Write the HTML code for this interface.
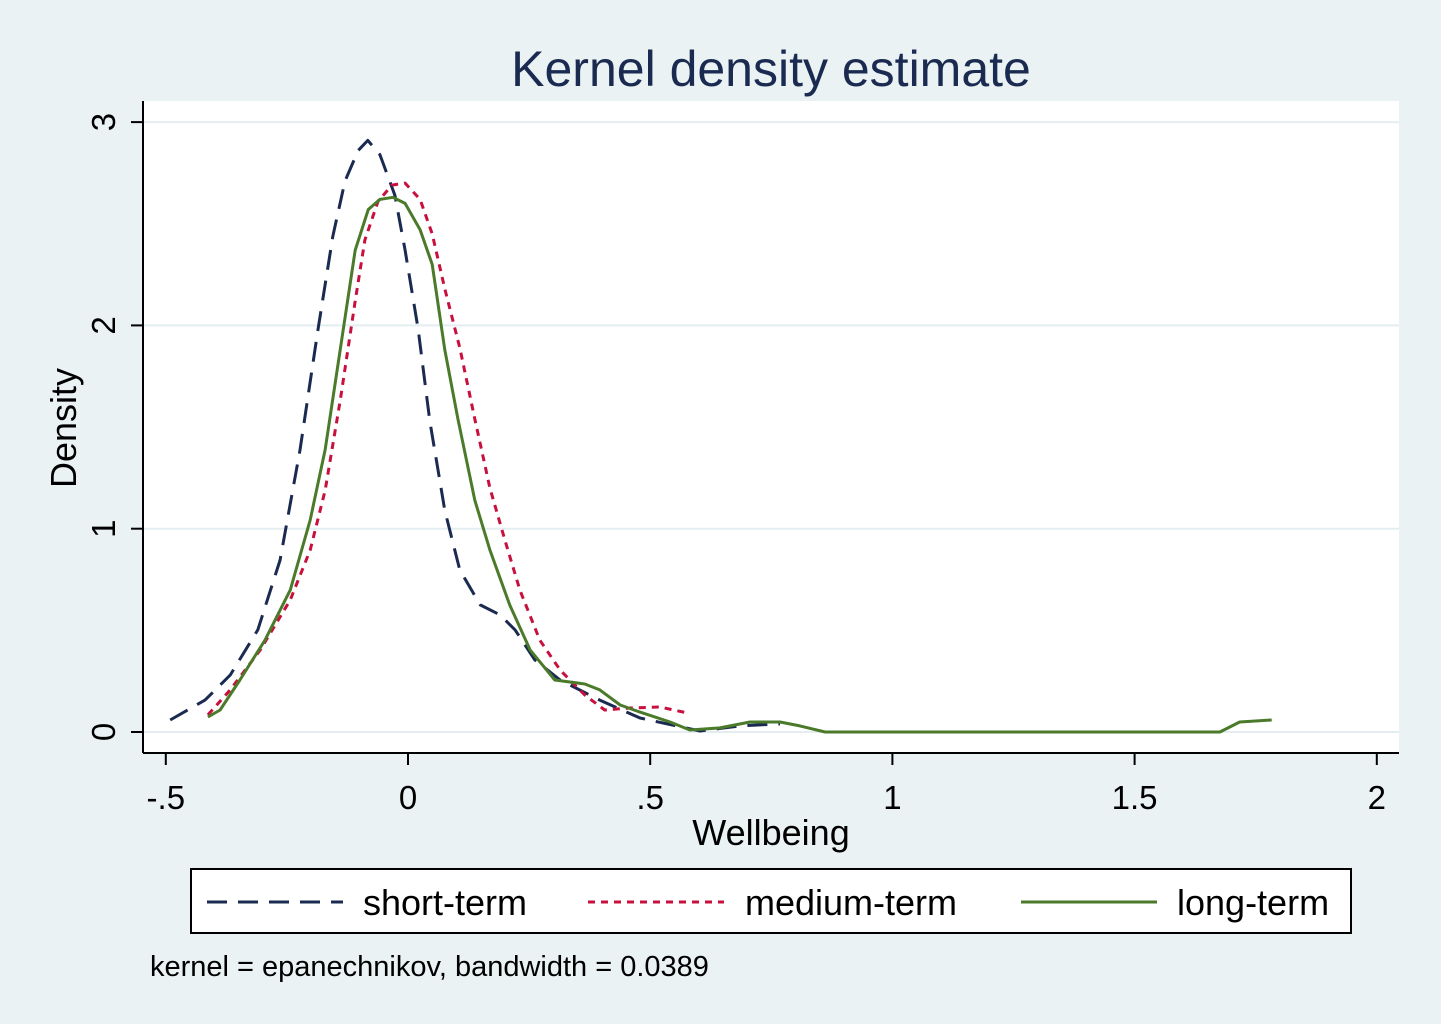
<!DOCTYPE html>
<html><head><meta charset="utf-8"><style>
html,body{margin:0;padding:0;background:#eaf2f3;}
svg{display:block;font-family:"Liberation Sans",Arial,sans-serif;}
</style></head><body>
<svg id="chart" width="1441" height="1024">
<rect x="0" y="0" width="1441" height="1024" fill="#eaf2f3"/>
<rect x="143" y="101" width="1256" height="652" fill="#ffffff"/>
<text x="771" y="86" text-anchor="middle" font-size="50" fill="#1a2a50">Kernel density estimate</text>
<g id="grid"></g>
<g id="series"></g>
<g id="axes"></g>
<text x="0" y="0" transform="translate(76,428) rotate(-90)" text-anchor="middle" font-size="36" fill="#000">Density</text>
<text x="771" y="845" text-anchor="middle" font-size="36" fill="#000">Wellbeing</text>
<g>
<rect x="191" y="869" width="1160" height="64" fill="#fff" stroke="#000" stroke-width="2"/>
<line x1="207" y1="902" x2="343" y2="902" stroke="#1a2a50" stroke-width="3" stroke-dasharray="20,11"/>
<text x="363" y="915" font-size="36">short-term</text>
<line x1="588" y1="902" x2="724" y2="902" stroke="#c8103e" stroke-width="3" stroke-dasharray="7,6"/>
<text x="745" y="915" font-size="36">medium-term</text>
<line x1="1021" y1="902" x2="1157" y2="902" stroke="#4a7a2a" stroke-width="3"/>
<text x="1177" y="915" font-size="36">long-term</text>
</g>
<text x="150" y="976" font-size="29">kernel = epanechnikov, bandwidth = 0.0389</text>
</svg>
<script>
const xTicks=[-0.5,0,0.5,1,1.5,2];
const xTickLabels=["-.5","0",".5","1","1.5","2"];
const yTicks=[0,1,2,3];
const yTickLabels=["0","1","2","3"];
const shortX=[-0.491,-0.419,-0.367,-0.310,-0.264,-0.223,-0.186,-0.155,-0.130,-0.103,-0.083,-0.058,-0.027,-0.006,0.021,0.045,0.076,0.107,0.149,0.190,0.221,0.262,0.314,0.396,0.479,0.603,0.685,0.768];
const shortY=[0.059,0.157,0.280,0.502,0.846,1.387,1.977,2.44,2.71,2.86,2.91,2.84,2.64,2.37,1.98,1.53,1.09,0.797,0.625,0.576,0.502,0.354,0.256,0.157,0.069,0.005,0.030,0.040];
const medX=[-0.413,-0.367,-0.305,-0.243,-0.202,-0.171,-0.140,-0.109,-0.089,-0.062,-0.033,-0.006,0.025,0.050,0.076,0.107,0.138,0.169,0.200,0.231,0.272,0.314,0.365,0.406,0.458,0.520,0.578];
const medY=[0.084,0.207,0.404,0.65,0.895,1.19,1.63,2.12,2.42,2.61,2.69,2.70,2.62,2.45,2.18,1.89,1.54,1.20,0.944,0.698,0.452,0.305,0.182,0.108,0.118,0.123,0.093];
const longX=[-0.413,-0.388,-0.347,-0.295,-0.243,-0.202,-0.171,-0.140,-0.109,-0.082,-0.058,-0.031,-0.006,0.025,0.050,0.076,0.103,0.138,0.169,0.210,0.252,0.303,0.365,0.396,0.438,0.479,0.541,0.582,0.644,0.706,0.768,0.809,0.861,1.676,1.717,1.783];
const longY=[0.074,0.108,0.256,0.453,0.699,1.043,1.39,1.88,2.37,2.57,2.62,2.63,2.60,2.47,2.30,1.88,1.54,1.14,0.895,0.625,0.404,0.256,0.236,0.207,0.133,0.098,0.049,0.010,0.020,0.049,0.049,0.030,0,0,0.049,0.059];

const NS="http://www.w3.org/2000/svg";
const sx=v=>408+v*484.4;
const sy=v=>732-v*203.3;
function mk(tag,attrs,parent){const e=document.createElementNS(NS,tag);for(const k in attrs)e.setAttribute(k,attrs[k]);parent.appendChild(e);return e;}
const grid=document.getElementById('grid'),axes=document.getElementById('axes'),series=document.getElementById('series');
yTicks.forEach((t,i)=>{
  const g=mk('line',{x1:143,x2:1399,y1:sy(t),y2:sy(t),stroke:'#e4eef0','stroke-width':2},grid);
  
  
  const tk=mk('line',{x1:131,x2:143,y1:sy(t),y2:sy(t),stroke:'#000','stroke-width':2},axes);
  
  
  const lb=mk('text',{transform:`translate(115,${sy(t)}) rotate(-90)`,'text-anchor':'middle','font-size':33},axes);
  lb.textContent=yTickLabels[i];
  
  
});
xTicks.forEach((t,i)=>{
  const tk=mk('line',{x1:sx(t),x2:sx(t),y1:753,y2:765,stroke:'#000','stroke-width':2},axes);
  
  
  const lb=mk('text',{x:sx(t),y:809,'text-anchor':'middle','font-size':33},axes);
  lb.textContent=xTickLabels[i];
  
  
});
const ya=mk('line',{x1:143,x2:143,y1:101,y2:753,stroke:'#000','stroke-width':2},axes);


const xa=mk('line',{x1:143,x2:1399,y1:753,y2:753,stroke:'#000','stroke-width':2},axes);


function path(xs,ys,color,dash,name){
  const d=xs.map((x,i)=>(i?'L':'M')+sx(x).toFixed(1)+','+sy(ys[i]).toFixed(1)).join(' ');
  const p=mk('path',{d:d,fill:'none',stroke:color,'stroke-width':3,'stroke-dasharray':dash,'stroke-linejoin':'round'},series);
  
  
}
path(shortX,shortY,'#1a2a50','20,11','short-term-line');
path(medX,medY,'#c8103e','7,6','medium-term-line');
path(longX,longY,'#4a7a2a','none','long-term-line');
</script>
</body></html>
